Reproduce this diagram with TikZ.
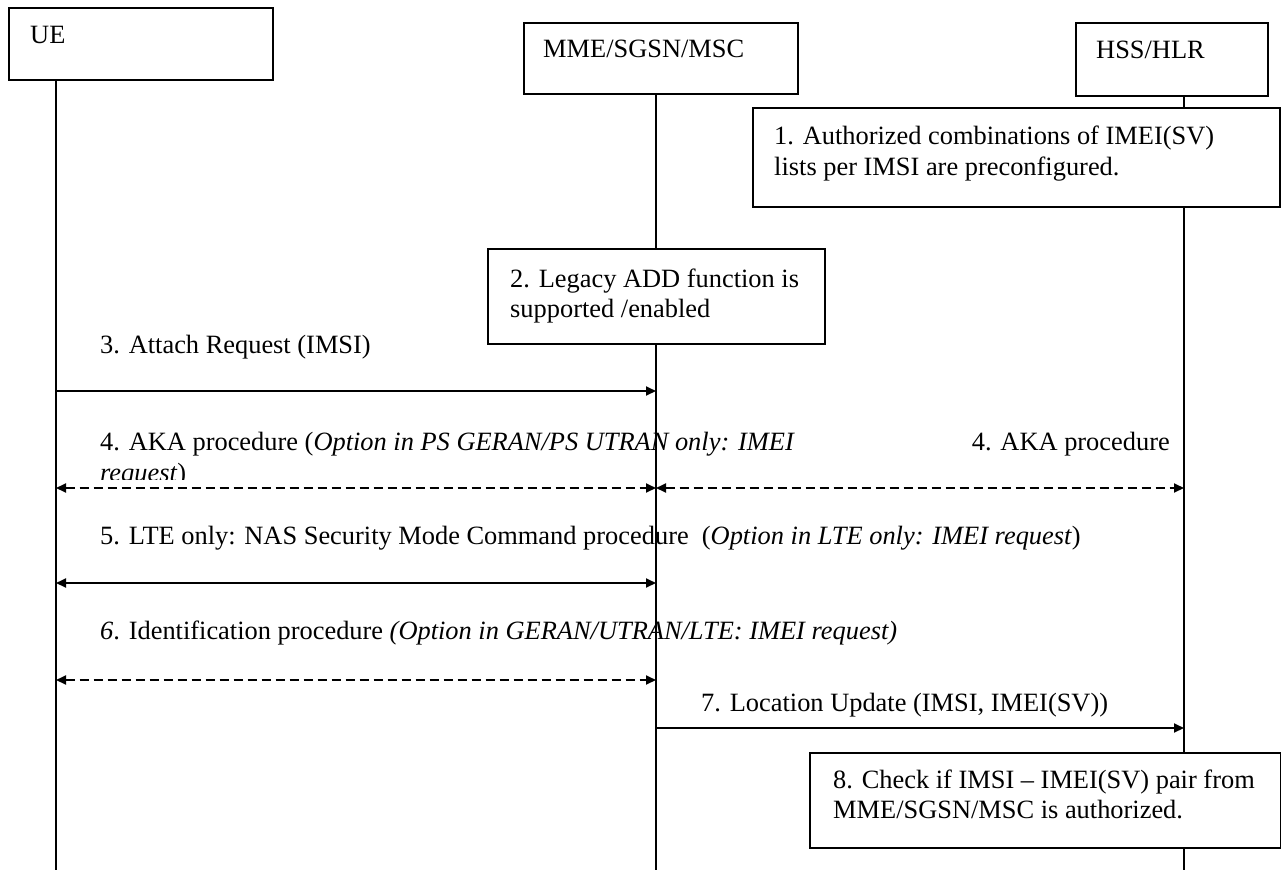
\documentclass[tikz,border=0pt]{standalone}
\usepackage{fontspec}
\setmainfont{Liberation Serif}
\usetikzlibrary{arrows.meta}
\begin{document}
\begin{tikzpicture}[x=1pt,y=-1pt,
  every node/.style={font=\fontsize{26.4}{31}\selectfont},
  box/.style={draw, line width=1.8pt, fill=white, inner sep=0pt, anchor=north west},
  txt/.style={anchor=base west, inner sep=0pt},
  life/.style={line width=1.8pt},
  tip/.tip={Triangle[length=10pt,width=9pt]},
  msg/.style={line width=1.8pt, -tip},
  msgboth/.style={line width=1.8pt, tip-tip},
  dsh/.style={dash pattern=on 9pt off 5pt}
]
\useasboundingbox (0,0) rectangle (1281,870);

% participants
\node[box, minimum width=264pt, minimum height=72pt] (ue) at (8,7) {};
\node[box, minimum width=274pt, minimum height=71pt] (mme) at (523,22) {};
\node[box, minimum width=192pt, minimum height=73pt] (hss) at (1075,22) {};
\node[txt] (ueT) at (30,43) {UE};
\node[txt] (mmeT) at (543,57) {MME/SGSN/MSC};
\node[txt] (hssT) at (1096,58) {HSS/HLR};

% lifelines
\coordinate (ueEnd) at (56,870);
\coordinate (mmeEnd) at (656,870);
\coordinate (hssEnd) at (1184,870);
\draw[life] (ueEnd |- ue.south) -- (ueEnd);
\draw[life] (mmeEnd |- mme.south) -- (mmeEnd);
\draw[life] (hssEnd |- hss.south) -- (hssEnd);

% 1. HSS/HLR configuration
\node[box, minimum width=527pt, minimum height=99pt] (s1) at (752,107) {};
\node[txt] (s1a) at (774,144) {1. Authorized combinations of IMEI(SV)};
\node[txt] (s1b) at (774,175) {lists per IMSI are preconfigured.};

% 2. MME/SGSN/MSC configuration
\node[box, minimum width=337pt, minimum height=95pt] (s2) at (487,248) {};
\node[txt] (s2a) at (510,287) {2. Legacy ADD function is};
\node[txt] (s2b) at (510,317) {supported /enabled};

% 3. Attach Request
\node[txt] (l3) at (100,353) {3. Attach Request (IMSI)};
\coordinate (m3a) at (56,391);
\coordinate (m3b) at (656,391);
\draw[msg] (m3a) -- (m3b);

% 4. AKA procedure
\node[txt] (l4) at (100,450) {4. AKA procedure (\textit{Option in PS GERAN/PS UTRAN only: IMEI}};
\begin{scope}
  \clip (90,455) rectangle (700,479);
  \node[txt] (l4b) at (100,481) {\textit{request})};
\end{scope}
\node[anchor=base east, inner sep=0pt] (l4r) at (1170,450) {4. AKA procedure};
\coordinate (m4a) at (56,488);
\coordinate (m4b) at (656,488);
\coordinate (m4c) at (1184,488);
\draw[msgboth, dsh] (m4a) -- (m4b);
\draw[msgboth, dsh] (m4b) -- (m4c);

% 5. NAS Security Mode Command
\node[txt] (l5) at (100,544) {5. LTE only: NAS Security Mode Command procedure\ \ (\textit{Option in LTE only: IMEI request})};
\coordinate (m5a) at (56,583);
\coordinate (m5b) at (656,583);
\draw[msgboth] (m5a) -- (m5b);

% 6. Identification procedure
\node[txt] (l6) at (100,639) {\textit{6}. Identification procedure \textit{(Option in GERAN/UTRAN/LTE: IMEI request)}};
\coordinate (m6a) at (56,680);
\coordinate (m6b) at (656,680);
\draw[msgboth, dsh] (m6a) -- (m6b);

% 7. Location Update
\node[txt] (l7) at (701,711) {7. Location Update (IMSI, IMEI(SV))};
\coordinate (m7a) at (656,728);
\coordinate (m7b) at (1184,728);
\draw[msg] (m7a) -- (m7b);

% 8. HSS/HLR check
\node[box, minimum width=471pt, minimum height=95pt] (s8) at (809,752) {};
\node[txt] (s8a) at (833,788) {8. Check if IMSI -- IMEI(SV) pair from};
\node[txt] (s8b) at (833,818) {MME/SGSN/MSC is authorized.};
\end{tikzpicture}
\end{document}
